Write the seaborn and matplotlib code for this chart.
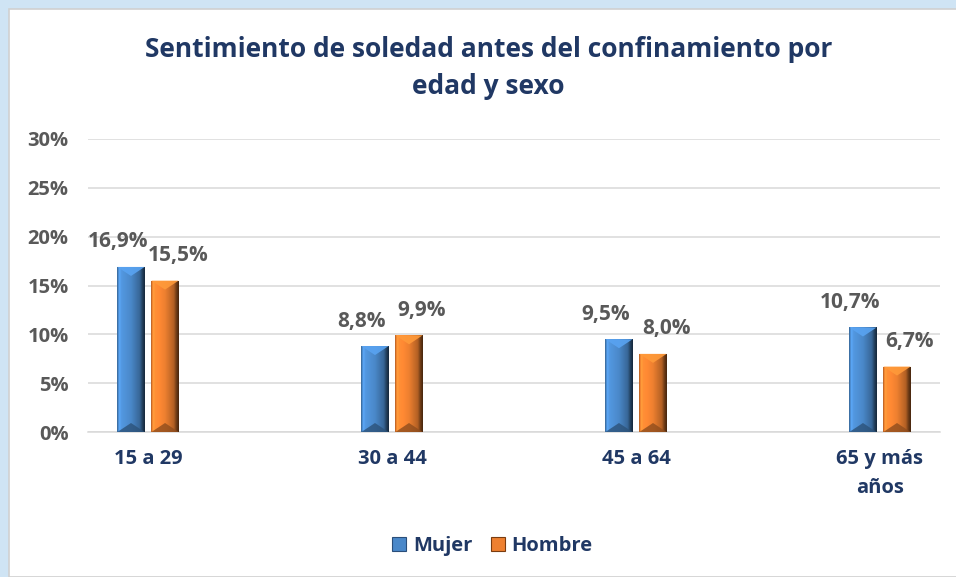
import numpy as np
import pandas as pd
import seaborn as sns
import matplotlib
matplotlib.use("Agg")
import matplotlib.pyplot as plt
from matplotlib.patches import Rectangle, Patch, Polygon
from matplotlib.ticker import FuncFormatter
from matplotlib.colors import to_rgb

# ---- data ----
categories = ["15 a 29", "30 a 44", "45 a 64", "65 y más\naños"]
mujer = [16.9, 8.8, 9.5, 10.7]
hombre = [15.5, 9.9, 8.0, 6.7]
series_names = ["Mujer", "Hombre"]
yticks = [0, 5, 10, 15, 20, 25, 30]
title = "Sentimiento de soledad antes del confinamiento por\nedad y sexo"

df = pd.DataFrame({
    "cat": categories * 2,
    "sexo": [series_names[0]] * 4 + [series_names[1]] * 4,
    "val": mujer + hombre,
})

sns.set_theme(style="white")
plt.rcParams["font.family"] = ["Open Sans", "DejaVu Sans"]

W, H = 956, 577
fig = plt.figure(figsize=(W / 100, H / 100), dpi=100)
fig.patch.set_facecolor("#CFE4F4")
# white chart frame
fig.patches.append(Rectangle((9 / W, 0), 1, 1 - 9 / H, transform=fig.transFigure,
                             facecolor="white", edgecolor="#D0D0D0", lw=1.2, zorder=-5))

ax = fig.add_axes([88 / W, 1 - 432 / H, (940 - 88) / W, (432 - 139) / H])
ax.set_facecolor("none")
ax.set_zorder(2)

blue = "#4A88C9"
orange = "#EE8030"
sns.barplot(data=df, x="cat", y="val", hue="sexo", palette=[blue, orange],
            width=0.279, gap=0.2, ax=ax, legend=False, saturation=1,
            edgecolor="none", zorder=2)

ax.set_ylim(0, 30)
ax.set_xlim(-0.246, 3.246)
ax.set_yticks(yticks)
ax.yaxis.set_major_formatter(FuncFormatter(lambda v, p: f"{int(v)}%"))
ax.grid(axis="y", color="#D9D9D9", lw=1.1, zorder=0)
ax.set_axisbelow(True)
for s in ["top", "right", "left"]:
    ax.spines[s].set_visible(False)
ax.spines["bottom"].set_color("#D9D9D9")
ax.spines["bottom"].set_linewidth(1.1)
ax.set_xlabel("")
ax.set_ylabel("")
ax.tick_params(axis="y", length=0, pad=14, labelsize=14.5, labelcolor="#595959")
ax.tick_params(axis="x", length=0, pad=12, labelsize=14.5, labelcolor="#203864")
for lab in ax.get_yticklabels():
    lab.set_fontweight("bold")
for lab in ax.get_xticklabels():
    lab.set_fontweight("bold")
    lab.set_linespacing(1.65)

# bevel-like shading on bars
bars = [p for p in ax.patches if isinstance(p, Rectangle) and p.get_height() > 0]
px_y = 30 / 293.0  # data units per pixel (vertical)
for i, p in enumerate(bars):
    base = np.array(to_rgb(p.get_facecolor()))
    x0, w, h = p.get_x(), p.get_width(), p.get_height()
    n = 64
    t = np.linspace(0, 1, n)
    shade = np.interp(t, [0, 0.08, 0.15, 0.5, 0.82, 0.92, 1.0],
                      [0.75, 1.25, 1.12, 1.0, 0.75, 0.45, 0.3])
    img = np.clip(base[None, :] * shade[:, None], 0, 1)
    img = np.concatenate([img, np.ones((n, 1))], axis=1)[None, :, :]
    im = ax.imshow(img, extent=[x0, x0 + w, 0, h], aspect="auto", zorder=3,
                   interpolation="bilinear")
    im.set_clip_path(p)
    xc = x0 + w / 2
    d = 9 * px_y
    top = Polygon([(x0, h), (x0 + w, h), (xc, h - d)], closed=True,
                  facecolor=np.clip(base * 1.2, 0, 1), edgecolor="none", alpha=0.9, zorder=4)
    bot = Polygon([(x0, 0), (x0 + w, 0), (xc, d)], closed=True,
                  facecolor=base * 0.6, edgecolor="none", alpha=0.8, zorder=4)
    ax.add_patch(top)
    ax.add_patch(bot)

ax.set_xlim(-0.246, 3.246)
ax.set_ylim(0, 30)

# data labels
n_cat = len(categories)
for i, p in enumerate(bars):
    val = p.get_height()
    xc = p.get_x() + p.get_width() / 2
    dx = -13 if i < n_cat else 13
    ax.annotate(f"{val:.1f}".replace(".", ",") + "%", (xc, val),
                xytext=(dx, 25), textcoords="offset pixels",
                ha="center", va="center", fontsize=15, fontweight="bold",
                color="#595959", zorder=5)

# title
fig.text(0.511, 1 - 68 / H, title, ha="center", va="center", fontsize=19,
         fontweight="bold", color="#203864", linespacing=1.5)

# legend
handles = [Patch(facecolor=blue, edgecolor="#2A4E7A", lw=0.8),
           Patch(facecolor=orange, edgecolor="#7A3C10", lw=0.8)]
leg = fig.legend(handles, series_names, loc="center", bbox_to_anchor=(0.515, 1 - 546 / H),
                 ncol=2, frameon=False, fontsize=14.5, handlelength=0.7, handleheight=0.7,
                 handletextpad=0.35, columnspacing=0.9)
for t in leg.get_texts():
    t.set_color("#203864")
    t.set_fontweight("bold")

fig.savefig("out.png", dpi=100)
